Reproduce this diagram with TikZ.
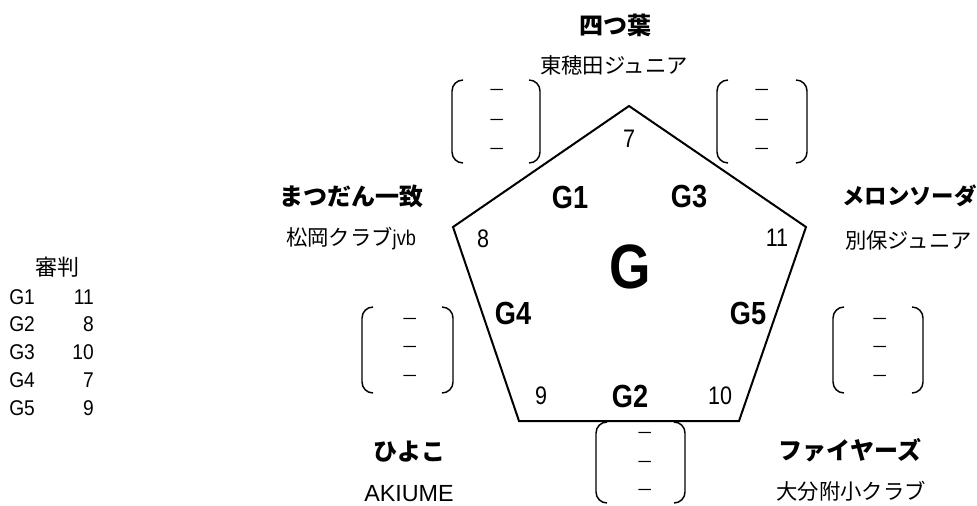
\documentclass[tikz,border=0pt]{standalone}
\usepackage{fontspec}
\setmainfont{Liberation Sans}
\newfontfamily\jp{Noto Sans CJK JP}
\newfontfamily\nar[FakeStretch=0.85]{Liberation Sans}
\newfontfamily\tabf[FakeStretch=0.9]{Liberation Sans}
\newcommand\bpair[5]{%
  \draw[brk] ($(#1,#2)+(11,0)$) -- (#1,#2) -- (#1,#4) -- ($(#1,#4)+(11,0)$);
  \draw[brk] ($(#3,#2)+(-11,0)$) -- (#3,#2) -- (#3,#4) -- ($(#3,#4)+(-11,0)$);
}
\usetikzlibrary{calc}
\begin{document}
\begin{tikzpicture}[x=0.75pt,y=-0.75pt,
  team/.style={font=\jp\bfseries\fontsize{18}{18}\selectfont, inner sep=0pt},
  club/.style={font=\jp\fontsize{16}{16}\selectfont, inner sep=0pt},
  num/.style={font=\nar\fontsize{19}{19}\selectfont, inner sep=0pt},
  glab/.style={font=\nar\bfseries\fontsize{24}{24}\selectfont, inner sep=0pt},
  bigg/.style={font=\nar\bfseries\fontsize{47}{47}\selectfont, inner sep=0pt},
  dashx/.style={font=\jp\fontsize{13}{13}\selectfont, inner sep=0pt},
  tab/.style={font=\tabf\fontsize{16}{16}\selectfont, inner sep=0pt},
  brk/.style={line width=1.1pt, rounded corners=11*0.75pt},
  pent/.style={line width=1.5pt, line join=miter}]
\useasboundingbox (0,0) rectangle (977,506);
% pentagon
\coordinate (P1) at (629,106);
\coordinate (P2) at (806,227);
\coordinate (P3) at (739,421);
\coordinate (P4) at (519,421);
\coordinate (P5) at (453,227);
\draw[pent] (P1) -- (P2) -- (P3) -- (P4) -- (P5) -- cycle;
% inner labels
\node[num] (n7) at (629,139) {7};
\node[num] (n8) at (483,239) {8};
\node[num] (n11) at (777,238) {11};
\node[num] (n9) at (541,396) {9};
\node[num] (n10) at (720,396) {10};
\node[glab] (g1) at (570,197) {G1};
\node[glab] (g3) at (689,197) {G3};
\node[glab] (g4) at (513,313) {G4};
\node[glab] (g5) at (748,313) {G5};
\node[glab] (g2) at (630,396) {G2};
\node[bigg] (gg) at (630,267) {G};
% team names
\node[team] (t1) at (615,25) {四つ葉};
\node[club] (c1) at (614,65) {東穂田ジュニア};
\node[team] (t2) at (351,196) {まつだん一致};
\node[club] (c2) at (351,239) {{\jp 松岡クラブ}\nar jvb};
\node[team,anchor=west,font=\jp\bfseries\fontsize{16.8}{16.8}\selectfont] (t3) at (842,196) {メロンソーダ};
\node[club,anchor=west] (c3) at (845,240) {別保ジュニア};
\node[team] (t4) at (409,452) {ひよこ};
\node[font=\fontsize{17.5}{17.5}\selectfont, inner sep=0pt] (c4) at (409,494) {AKIUME};
\node[team] (t5) at (850,450) {ファイヤーズ};
\node[club] (c5) at (851,491) {大分附小クラブ};
% brackets
\bpair{452}{80}{540}{163}{}
\bpair{717}{80}{807}{163}{}
\bpair{362}{307}{453}{393}{}
\bpair{833}{307}{923}{393}{}
\bpair{596}{422}{685}{503}{}
\foreach \x/\ya/\yb/\yc/\k in {497/93/123/152/a, 762/93/123/152/b, 410/322/350/379/c, 880/322/350/379/d, 645/436/465/493/e}{
  \node[dashx] (\k1) at (\x,\ya) {－};
  \node[dashx] (\k2) at (\x,\yb) {－};
  \node[dashx] (\k3) at (\x,\yc) {－};
}
% table
\node[font=\jp\fontsize{16.5}{16.5}\selectfont, inner sep=0pt] (ref) at (57,267) {審判};
\foreach \g/\v/\y in {1/11/297, 2/8/324, 3/10/352, 4/7/380, 5/9/408}{
  \node[tab,anchor=west] (rg\g) at (9,\y) {G\g};
  \node[tab,anchor=east] (rv\g) at (94,\y) {\v};
}
\end{tikzpicture}
\end{document}
